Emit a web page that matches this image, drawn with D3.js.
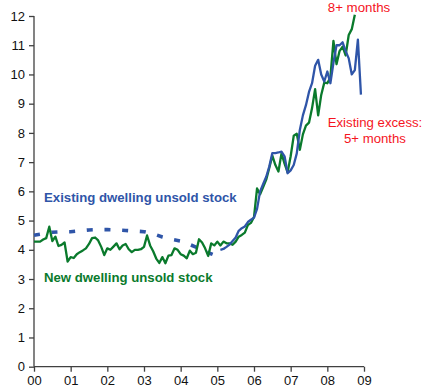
<!DOCTYPE html>
<html>
<head>
<meta charset="utf-8">
<script src="https://cdn.jsdelivr.net/npm/d3@7"></script>
<style>
  html, body { margin: 0; padding: 0; background: #fff; }
  svg { display: block; font-family: "Liberation Sans", Arial, sans-serif; }
</style>
</head>
<body>
<svg id="chart" width="425" height="390"></svg>
<script>
// Months of unsold stock, 2000–2009
const yearLabels = ["00", "01", "02", "03", "04", "05", "06", "07", "08", "09"];
const yTicks = [0, 1, 2, 3, 4, 5, 6, 7, 8, 9, 10, 11, 12];

// New dwelling unsold stock, monthly from Jan 2000
const newStart = 2000;
const newStock = [
  4.28, 4.28, 4.28, 4.35, 4.40, 4.79, 4.30, 4.45, 4.13, 4.17, 4.25, 3.60,
  3.75, 3.72, 3.85, 3.92, 3.98, 4.05, 4.20, 4.40, 4.42, 4.32, 4.10, 3.82,
  4.05, 4.00, 4.11, 4.22, 4.02, 4.15, 4.20, 4.02, 3.92, 4.00, 4.00, 4.02,
  4.10, 4.49, 4.15, 3.95, 3.70, 3.55, 3.75, 3.54, 3.80, 3.82, 4.05, 4.00,
  3.85, 3.80, 3.71, 3.97, 3.85, 3.90, 4.36, 4.25, 4.05, 3.79, 4.22, 4.15,
  4.28, 4.15, 4.28, 4.22, 4.22, 4.17, 4.28, 4.45, 4.51, 4.59, 4.85, 4.92,
  5.12, 6.10, 5.90, 6.15, 6.40, 6.80, 7.22, 6.90, 6.68, 7.30, 6.95, 6.65,
  7.20, 7.90, 7.97, 7.42, 7.95, 8.25, 8.35, 8.85, 9.50, 8.60, 9.30, 9.72,
  9.70, 9.90, 11.15, 10.35, 10.80, 10.95, 10.65, 11.35, 11.55, 12.04
];

// Existing dwelling unsold stock, quarterly 2000–2005 (drawn dashed)
const existingQStart = 2000;
const existingQuarterly = [
  4.50, 4.55, 4.60, 4.62, 4.62, 4.65, 4.68, 4.69, 4.69, 4.68, 4.66,
  4.64, 4.62, 4.55, 4.44, 4.36, 4.30, 4.18, 4.05, 3.90, 3.78
];

// Existing dwelling unsold stock, monthly from Feb 2005
const existingMStart = 2005 + 1 / 12;
const existingMonthly = [
  4.00, 4.03, 4.10, 4.18, 4.30, 4.42, 4.65, 4.74, 4.80, 4.95, 5.03,
  5.10, 5.40, 6.00, 6.25, 6.50, 6.85, 7.31, 7.31, 7.33, 7.36, 7.20,
  6.62, 6.72, 6.90, 7.30, 8.10, 8.60, 8.95, 9.40, 9.70, 10.30, 10.50,
  10.00, 9.76, 10.10, 9.70, 10.40, 11.00, 11.00, 11.10, 10.80, 10.55,
  10.00, 10.15, 11.19, 9.31
];

const BLUE = "#2f55a8";
const GREEN = "#0a7a2c";
const RED = "#f5141e";
const AXIS = "#404040";

const svg = d3.select("#chart");

const x = d3.scaleLinear().domain([2000, 2009]).range([34, 364]);
const y = d3.scaleLinear().domain([0, 12]).range([366.7, 16]);

// Axes
const xAxis = d3.axisBottom(x)
  .tickValues(d3.range(2000, 2010))
  .tickFormat((d, i) => yearLabels[i])
  .tickSize(5).tickPadding(4);
const yAxis = d3.axisLeft(y)
  .tickValues(yTicks)
  .tickSize(5).tickPadding(4);

const gx = svg.append("g").attr("transform", `translate(0,${y(0)})`).call(xAxis);
const gy = svg.append("g").attr("transform", `translate(${x(2000)},0)`).call(yAxis);

[gx, gy].forEach(g => {
  g.select(".domain").attr("stroke", AXIS).attr("stroke-width", 1.3);
  g.selectAll(".tick line").attr("stroke", AXIS).attr("stroke-width", 1.3);
  g.selectAll(".tick text")
    .attr("fill", "#111")
    .style("font-size", "13px")
    .style("font-family", "'Liberation Sans', Arial, sans-serif");
});
// Plain axis lines without the outer tick caps
gx.select(".domain").attr("d", `M${x(2000)},0H${x(2009)}`);
gy.select(".domain").attr("d", `M0,${y(0)}V${y(12)}`);

// Series
const toPoints = (start, step, arr) => arr.map((v, i) => [start + i * step, v]);
const line = d3.line().x(d => x(d[0])).y(d => y(d[1]));

svg.append("path")
  .datum(toPoints(existingQStart, 0.25, existingQuarterly))
  .attr("d", line)
  .attr("fill", "none")
  .attr("stroke", BLUE)
  .attr("stroke-width", 3.6)
  .attr("stroke-dasharray", "6,11.7");

svg.append("path")
  .datum(toPoints(newStart, 1 / 12, newStock))
  .attr("d", line)
  .attr("fill", "none")
  .attr("stroke", GREEN)
  .attr("stroke-width", 2.3)
  .attr("stroke-linejoin", "round");

svg.append("path")
  .datum(toPoints(existingMStart, 1 / 12, existingMonthly))
  .attr("d", line)
  .attr("fill", "none")
  .attr("stroke", BLUE)
  .attr("stroke-width", 2.3)
  .attr("stroke-linejoin", "round");

// Labels
svg.append("text")
  .attr("x", 44).attr("y", 202)
  .attr("fill", BLUE)
  .style("font-size", "13.2px").style("font-weight", "bold")
  .text("Existing dwelling unsold stock");

svg.append("text")
  .attr("x", 44).attr("y", 282)
  .attr("fill", GREEN)
  .style("font-size", "13.2px").style("font-weight", "bold")
  .text("New dwelling unsold stock");

svg.append("text")
  .attr("x", 359).attr("y", 12)
  .attr("text-anchor", "middle")
  .attr("fill", RED)
  .style("font-size", "13.3px")
  .text("8+ months");

svg.append("text")
  .attr("x", 375).attr("y", 126.5)
  .attr("text-anchor", "middle")
  .attr("fill", RED)
  .style("font-size", "13.2px")
  .text("Existing excess:");

svg.append("text")
  .attr("x", 375).attr("y", 143)
  .attr("text-anchor", "middle")
  .attr("fill", RED)
  .style("font-size", "13.2px")
  .text("5+ months");
</script>
</body>
</html>
